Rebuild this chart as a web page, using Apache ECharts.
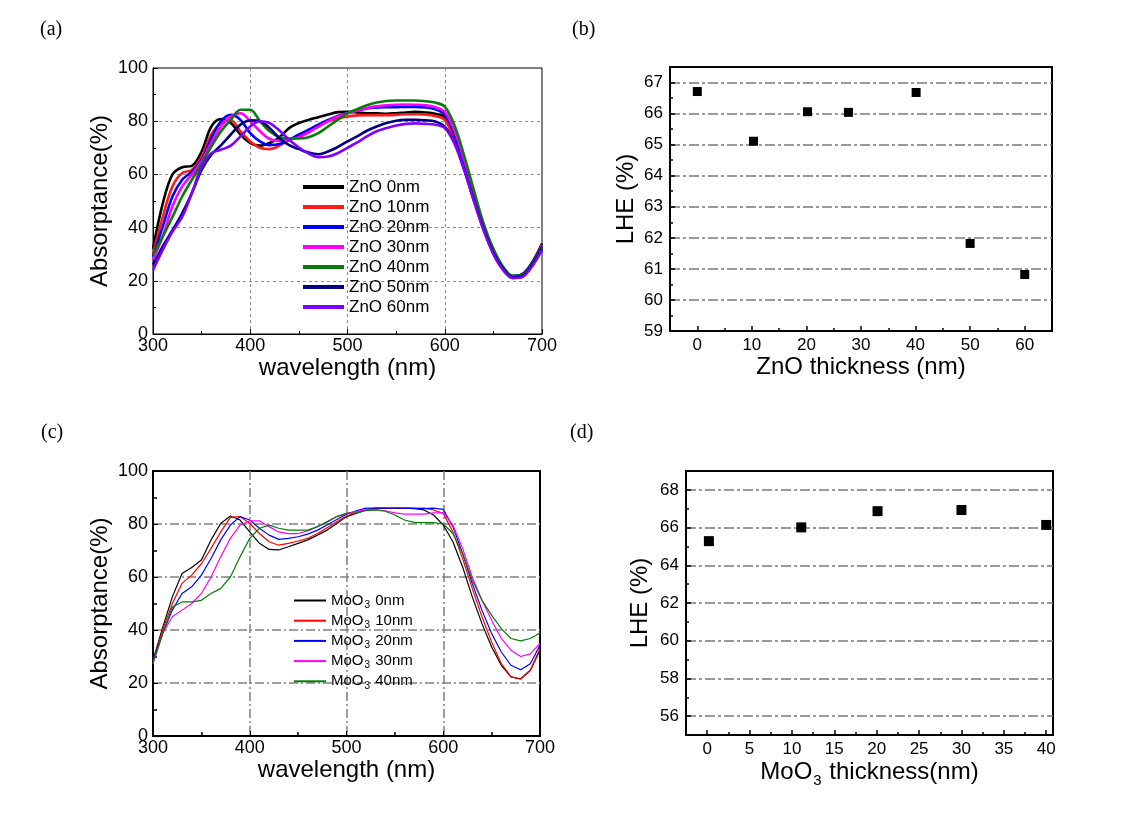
<!DOCTYPE html>
<html><head><meta charset="utf-8">
<script src="https://cdn.jsdelivr.net/npm/echarts@6/dist/echarts.min.js"></script>
<style>html,body{margin:0;padding:0;background:#fff}#c{width:1124px;height:829px}</style>
</head><body><div id="c"></div>
<script>
// ---------- data ----------
const wavelengths = [300,310,320,330,340,350,360,370,380,390,400,410,420,430,440,450,460,470,480,490,500,
  510,520,530,540,550,560,570,580,590,600,610,620,630,640,650,660,670,680,690,700];

const znoNames = ['ZnO 0nm','ZnO 10nm','ZnO 20nm','ZnO 30nm','ZnO 40nm','ZnO 50nm','ZnO 60nm'];
const zno0  = [32,49,60,62.7,63.2,68.6,78,80.8,79.3,75,71.8,70.8,71.8,74,77.4,79.3,80.5,81.5,82.5,83.4,83.5,83.3,83,83,82.8,83,83.3,83.5,83.3,82.8,81.5,74,63,51,40,31,25,21.8,22.5,27,34];
const zno10 = [30,44,55.5,60.5,61.7,66.7,75,79.3,80.3,76.2,72.4,70,69.5,70.8,73,74.5,76.5,78,80,81,81.8,82.2,82.3,82.3,82.3,82.4,82.6,82.6,82.5,82,80.5,73,62,50,39,30.5,24.5,21.5,22.3,26.8,33.5];
const zno20 = [29,40.4,51.7,58,61,65.5,73.6,80,82.4,80.5,75.5,72.4,71,71.4,73,75,76.8,78.7,80.5,82,83,84,84.8,85.1,85.3,85.3,85.4,85.4,85.2,84.5,82.5,75,64,51.5,40,31,25,21.8,22.5,26.8,33];
const zno30 = [27.9,36.6,48,55.5,60,65,71.8,78,81.8,83,80,76.2,73.3,72.6,73,74,75.8,78,80,81.8,83,84,85,85.6,86,86.2,86.3,86.2,86,85.3,83.5,76.5,65.5,53,41,31.5,25,21.5,22,26,32];
const zno40 = [29.7,36.6,44,51.7,58,64.2,70.5,76.2,80.5,84.3,84.3,80,76.2,74,73.5,73.5,74,75.5,78,80.5,83,84.5,86,87,87.6,87.8,87.8,87.8,87.5,87,85.5,78.5,67,54,41.5,32,25.3,21.8,22.3,26.5,32.5];
const zno50 = [26,32.9,39,45.4,53,61.7,67.4,71,75,78.7,80.3,80,77.4,73.6,71,69.5,68.2,67.6,68.6,70.3,72.4,74.3,76.4,78,79.3,80.2,80.5,80.5,80.3,79.9,78,72,62,50.5,39.5,30.5,24.5,21.3,21.8,26,32];
const zno60 = [24,31.6,38.5,44,53,63,68,69.3,70.8,74.3,78,80,79.3,76.5,73,70.1,67.8,66.5,66.7,68,70,72,74.3,76.2,77.4,78.4,79,79.2,79,78.7,77.4,71.5,61.5,50,39,30,24,21,21.5,25.5,31.5];

const mooNames = ['MoO3 0nm','MoO3 10nm','MoO3 20nm','MoO3 30nm','MoO3 40nm'];
const moo0  = [28.5,41,52.5,61.3,63.6,66.4,74,80.2,83,81.5,77,72.7,70.4,70.2,71.4,72.7,74,75.8,77.7,80.2,82.8,84,85.3,85.9,85.9,85.9,85.9,85.9,85.3,83.4,79.6,73.3,63.8,52.5,42.4,33.6,26.7,22.3,21.6,24.8,32.4];
const moo10 = [28.5,40,50,57.6,60.7,65,70.8,77,82.5,82.8,80.2,76.4,73.3,72,72.7,73.6,74.6,76.4,78.6,80.8,83,84.2,85.3,86,86,86,86,86,86,85.3,84,77,67,55.7,45,35.5,27.3,22.3,21.4,24.8,33];
const moo20 = [28.5,38.7,47.5,53.8,56.3,60.7,67,74,79.6,82.8,81.5,78.4,75.8,74.2,74.6,75.2,76.2,77.7,79.6,81.7,83.7,85,86,86,86,86,86,85.8,85.8,86,85.5,79,68.9,57.5,47.5,38.7,31.7,26.7,25,27.3,34.3];
const moo30 = [27.3,38.7,45,47.5,50,53.8,60,67.6,74.6,79.6,81.2,81.2,79,77,76.4,76.4,77.4,79,80.8,82.8,84,84.7,85.3,85.3,85,84.2,83.7,83.7,83.7,84.2,84.2,79.6,70.8,60,51.2,43.7,36.8,32.4,30,31,34.9];
const moo40 = [27.3,38.7,48.7,50.6,50.6,51.2,53.8,55.7,60,67.6,74.6,78.4,79.6,78.4,77.7,77.7,77.7,79,80.8,82.8,84,84.2,85,85.3,84.8,83.4,81.5,80.6,80.5,80.5,80,76.4,68.9,58.8,51.2,45.6,40.5,36.8,35.9,36.8,38.9];

const znoThickness = [0,10.3,20.2,27.7,40.1,50,60];
const znoLHE       = [66.71,65.11,66.06,66.04,66.68,61.82,60.82];
const mooThickness = [0.2,11.1,20.1,30,40];
const mooLHE       = [65.28,66.01,66.87,66.93,66.14];

const bTicks = [0,10,20,30,40,50,60];
const bMinorTicks = [5,15,25,35,45,55];
const dTicks = [0,5,10,15,20,25,30,35,40];
const dMinorTicks = [2.5,7.5,12.5,17.5,22.5,27.5,32.5,37.5];
const dYTicks = [56,58,60,62,64,66,68];
const dYMinorTicks = [57,59,61,63,65,67];

const znoColors = ['#000000','#ff1a1a','#0000ff','#ff00ff','#0a7a0a','#000080','#8000ff'];
const mooColors = ['#000000','#ff0000','#0000ff','#ff00ff','#008000'];

// ---------- chart ----------
const FONT = 'Liberation Sans';
const chart = echarts.init(document.getElementById('c'), null, {renderer: 'canvas'});

function pairs(xs, ys){ return xs.map((x,i)=>[x, ys[i]]); }

const grids = [
  {left:153, top:68, width:389, height:266, show:true, borderColor:'#000', borderWidth:1},
  {left:670, top:67, width:382, height:264, show:true, borderColor:'#000', borderWidth:2},
  {left:153, top:471, width:387, height:265, show:true, borderColor:'#000', borderWidth:2},
  {left:686, top:471, width:367, height:264, show:true, borderColor:'#000', borderWidth:2}
];

const blk = {color:'#000'};
function label(size, margin, extra){ return Object.assign({color:'#000', fontSize:size, fontFamily:FONT, margin:margin}, extra||{}); }
const nameStyle = {color:'#000', fontSize:24, fontFamily:FONT};
function split(color, width, type, edges){ return {show:true, showMinLine:!!edges, showMaxLine:!!edges, lineStyle:{color:color, width:width, type:type}}; }

const subRich = {
  n: {color:'#000', fontSize:24, fontFamily:FONT},
  s: {color:'#000', fontSize:15, fontFamily:FONT, padding:[16,1,0,1]}
};

const xAxes = [
  // (a)
  {gridIndex:0, type:'value', min:300, max:700, interval:100,
   axisLine:{onZero:false, lineStyle:{color:'#000', width:1}},
   axisTick:{inside:true, length:5, lineStyle:blk},
   minorTick:{show:true, splitNumber:2, length:3, lineStyle:blk},
   splitLine:split('#8c8c8c', 1, [3,3]),
   axisLabel:label(18, 3),
   name:'wavelength (nm)', nameLocation:'middle', nameGap:22, nameTextStyle:nameStyle},
  // (b)
  {gridIndex:1, type:'value', min:-5, max:65,
   axisLine:{onZero:false, lineStyle:{color:'#000', width:2}},
   axisTick:{inside:true, length:5, lineStyle:{color:'#000', width:1.5}, customValues:bTicks},
   axisLabel:label(17, 6, {customValues:bTicks}),
   splitLine:{show:false},
   name:'ZnO thickness (nm)', nameLocation:'middle', nameGap:23, nameTextStyle:nameStyle},
  {gridIndex:1, type:'value', min:-5, max:65, position:'bottom',
   axisLine:{show:false, onZero:false}, axisLabel:{show:false}, splitLine:{show:false},
   axisTick:{inside:true, length:3, lineStyle:{color:'#000', width:1.5}, customValues:bMinorTicks}},
  // (c)
  {gridIndex:2, type:'value', min:300, max:700, interval:100,
   axisLine:{onZero:false, lineStyle:{color:'#000', width:2}},
   axisTick:{inside:true, length:5, lineStyle:blk},
   minorTick:{show:true, splitNumber:2, length:4, lineStyle:{color:'#000', width:1.5}},
   splitLine:split('#808080', 1.5, [9,3,2,3]),
   axisLabel:label(18, 3),
   name:'wavelength (nm)', nameLocation:'middle', nameGap:22, nameTextStyle:nameStyle},
  // (d)
  {gridIndex:3, type:'value', min:-2.5, max:40.8,
   axisLine:{onZero:false, lineStyle:{color:'#000', width:2}},
   axisTick:{inside:true, length:5, lineStyle:{color:'#000', width:1.5}, customValues:dTicks},
   axisLabel:label(17, 6, {customValues:dTicks}),
   splitLine:{show:false},
   name:'{n|MoO}{s|3}{n| thickness(nm)}', nameLocation:'middle', nameGap:22,
   nameTextStyle:{color:'#000', fontSize:24, fontFamily:FONT, rich:subRich}},
  {gridIndex:3, type:'value', min:-2.5, max:40.8, position:'bottom',
   axisLine:{show:false, onZero:false}, axisLabel:{show:false}, splitLine:{show:false},
   axisTick:{inside:true, length:3, lineStyle:{color:'#000', width:1.5}, customValues:dMinorTicks}}
];

const yAxes = [
  // (a)
  {gridIndex:0, type:'value', min:0, max:100, interval:20,
   axisLine:{onZero:false, lineStyle:{color:'#000', width:1}},
   axisTick:{inside:true, length:5, lineStyle:blk},
   minorTick:{show:true, splitNumber:2, length:3, lineStyle:blk},
   splitLine:split('#8c8c8c', 1, [3,3]),
   axisLabel:label(18, 5),
   name:'Absorptance(%)', nameLocation:'middle', nameGap:41, nameTextStyle:nameStyle},
  // (b)
  {gridIndex:1, type:'value', min:59, max:67.5, interval:1,
   axisLine:{onZero:false, lineStyle:{color:'#000', width:2}},
   axisTick:{inside:true, length:5, lineStyle:{color:'#000', width:1.5}},
   minorTick:{show:true, splitNumber:2, length:3, lineStyle:{color:'#000', width:1.5}},
   splitLine:split('#7a7a7a', 1.5, [10,3,3,3]),
   axisLabel:label(17, 7, {showMaxLabel:false}),
   name:'LHE (%)', nameLocation:'middle', nameGap:32, nameTextStyle:nameStyle},
  // (c)
  {gridIndex:2, type:'value', min:0, max:100, interval:20,
   axisLine:{onZero:false, lineStyle:{color:'#000', width:2}},
   axisTick:{inside:true, length:5, lineStyle:blk},
   minorTick:{show:true, splitNumber:2, length:4, lineStyle:{color:'#000', width:1.5}},
   splitLine:split('#808080', 1.5, [9,3,2,3]),
   axisLabel:label(18, 5),
   name:'Absorptance(%)', nameLocation:'middle', nameGap:41, nameTextStyle:nameStyle},
  // (d)
  {gridIndex:3, type:'value', min:55, max:69,
   axisLine:{onZero:false, lineStyle:{color:'#000', width:2}},
   axisTick:{inside:true, length:5, lineStyle:{color:'#000', width:1.5}, customValues:dYTicks},
   axisLabel:label(17, 7, {customValues:dYTicks}),
   splitLine:split('#7a7a7a', 1.5, [10,3,3,3], true),
   name:'LHE (%)', nameLocation:'middle', nameGap:34, nameTextStyle:nameStyle},
  {gridIndex:3, type:'value', min:55, max:69, position:'left',
   axisLine:{show:false, onZero:false}, axisLabel:{show:false}, splitLine:{show:false},
   axisTick:{inside:true, length:3, lineStyle:{color:'#000', width:1.5}, customValues:dYMinorTicks}}
];

const znoData = [zno0, zno10, zno20, zno30, zno40, zno50, zno60];
const mooData = [moo0, moo10, moo20, moo30, moo40];

const series = [];
znoNames.forEach((n,i)=>series.push({
  name:n, type:'line', xAxisIndex:0, yAxisIndex:0, data:pairs(wavelengths, znoData[i]),
  smooth:0.35, showSymbol:false, symbol:'none', color:znoColors[i],
  lineStyle:{width:2.6, color:znoColors[i]}
}));
mooNames.forEach((n,i)=>series.push({
  name:n, type:'line', xAxisIndex:3, yAxisIndex:2, data:pairs(wavelengths, mooData[i]),
  smooth:false, showSymbol:false, symbol:'none', color:mooColors[i],
  lineStyle:{width:1.2, color:mooColors[i]}
}));
series.push({type:'scatter', xAxisIndex:1, yAxisIndex:1, data:pairs(znoThickness, znoLHE),
  symbol:'rect', symbolSize:9, itemStyle:{color:'#000', opacity:1}});
series.push({type:'scatter', xAxisIndex:4, yAxisIndex:3, data:pairs(mooThickness, mooLHE),
  symbol:'rect', symbolSize:10, itemStyle:{color:'#000', opacity:1}});

const panelStyle = {fontFamily:'Liberation Serif', fontSize:20, fontWeight:'normal', color:'#000'};

chart.setOption({
  animation:false,
  backgroundColor:'#fff',
  title:[
    {text:'(a)', left:40, top:20, textStyle:panelStyle, padding:0},
    {text:'(b)', left:572, top:20, textStyle:panelStyle, padding:0},
    {text:'(c)', left:41, top:423, textStyle:panelStyle, padding:0},
    {text:'(d)', left:570, top:423, textStyle:panelStyle, padding:0}
  ],
  legend:[
    {data:znoNames, orient:'vertical', left:303, top:177, itemGap:0, itemWidth:41, itemHeight:4,
     icon:'rect', padding:0,
     textStyle:{color:'#000', fontSize:17, fontFamily:FONT, lineHeight:20}},
    {data:mooNames, orient:'vertical', left:294, top:591, itemGap:1.2, itemWidth:32, itemHeight:2,
     icon:'rect', padding:0,
     formatter: (name)=>{ const rest = name.slice(4); return '{n|MoO}{s|3}{n|' + rest + '}'; },
     textStyle:{color:'#000', fontSize:15, fontFamily:FONT,
       rich:{ n:{color:'#000', fontSize:15, fontFamily:FONT, lineHeight:20.5},
              s:{color:'#000', fontSize:10, fontFamily:FONT, lineHeight:11, padding:[9,1,0,1]} }}}
  ],
  grid:grids,
  xAxis:xAxes,
  yAxis:yAxes,
  series:series
});
</script>
</body></html>
